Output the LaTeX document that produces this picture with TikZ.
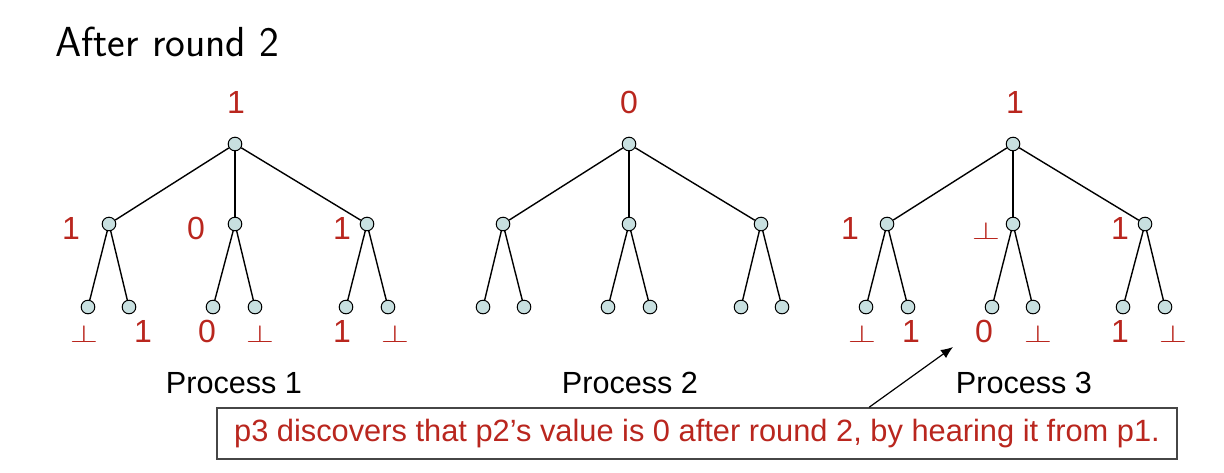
\documentclass[tikz,border=0pt]{standalone}
\usepackage{fontspec}
\newfontfamily\arialfont{Liberation Sans}
\usetikzlibrary{arrows.meta}
\definecolor{valred}{RGB}{185,38,30}
\definecolor{vtxfill}{RGB}{200,224,224}
\definecolor{boxgray}{RGB}{70,70,70}
\newcommand{\undefval}{\scalebox{1.05}[0.72]{$\perp$}}
\tikzset{
  vtx/.style={circle, draw, fill=vtxfill, minimum size=6.8pt, inner sep=0pt, line width=0.5pt},
  val/.style={anchor=base, text=valred, font=\arialfont\fontsize{16}{19}\selectfont},
  proc/.style={anchor=base, font=\arialfont\fontsize{15.3}{18}\selectfont},
  edge/.style={line width=0.7pt},
  notebox/.style={draw=boxgray, line width=0.8pt, minimum width=480pt, minimum height=25.5pt,
    text=valred, font=\arialfont\fontsize{15.4}{18}\selectfont}
}
\begin{document}
\begin{tikzpicture}[x=0.5pt, y=-0.5pt]
\useasboundingbox (0,0) rectangle (1224,472);
% Title
\node[anchor=base west, inner sep=0pt, font=\sffamily\fontsize{21}{25}\selectfont] (title) at (55,56) {After round 2};

% Process 1
\node[vtx] (p1r) at (235,144) {};
\node[vtx] (p1a) at (109,224) {};
\node[vtx] (p1b) at (235,224) {};
\node[vtx] (p1c) at (367,224) {};
\node[vtx] (p1a1) at (88,307) {};
\node[vtx] (p1a2) at (129,307) {};
\node[vtx] (p1b1) at (213,307) {};
\node[vtx] (p1b2) at (255,307) {};
\node[vtx] (p1c1) at (346,307) {};
\node[vtx] (p1c2) at (388,307) {};
\draw[edge] (p1r) -- (p1a);
\draw[edge] (p1r) -- (p1b);
\draw[edge] (p1r) -- (p1c);
\draw[edge] (p1a) -- (p1a1);
\draw[edge] (p1a) -- (p1a2);
\draw[edge] (p1b) -- (p1b1);
\draw[edge] (p1b) -- (p1b2);
\draw[edge] (p1c) -- (p1c1);
\draw[edge] (p1c) -- (p1c2);
\node[val] (v1r) at (236,113) {1};
\node[val] (v1a) at (71,239) {1};
\node[val] (v1b) at (196,239) {0};
\node[val] (v1c) at (342,239) {1};
\node[val] (v1a1) at (84,342) {\undefval};
\node[val] (v1a2) at (143,342) {1};
\node[val] (v1b1) at (207,342) {0};
\node[val] (v1b2) at (260,342) {\undefval};
\node[val] (v1c1) at (342,342) {1};
\node[val] (v1c2) at (395,342) {\undefval};
\node[proc] (name1) at (234,393) {Process 1};

% Process 2
\node[vtx] (p2r) at (629,144) {};
\node[vtx] (p2a) at (503,224) {};
\node[vtx] (p2b) at (629,224) {};
\node[vtx] (p2c) at (761,224) {};
\node[vtx] (p2a1) at (483,307) {};
\node[vtx] (p2a2) at (524,307) {};
\node[vtx] (p2b1) at (608,307) {};
\node[vtx] (p2b2) at (650,307) {};
\node[vtx] (p2c1) at (741,307) {};
\node[vtx] (p2c2) at (782,307) {};
\draw[edge] (p2r) -- (p2a);
\draw[edge] (p2r) -- (p2b);
\draw[edge] (p2r) -- (p2c);
\draw[edge] (p2a) -- (p2a1);
\draw[edge] (p2a) -- (p2a2);
\draw[edge] (p2b) -- (p2b1);
\draw[edge] (p2b) -- (p2b2);
\draw[edge] (p2c) -- (p2c1);
\draw[edge] (p2c) -- (p2c2);
\node[val] (v2r) at (629,113) {0};
\node[proc] (name2) at (630,393) {Process 2};

% Process 3
\node[vtx] (p3r) at (1013,144) {};
\node[vtx] (p3a) at (887,224) {};
\node[vtx] (p3b) at (1013,224) {};
\node[vtx] (p3c) at (1145,224) {};
\node[vtx] (p3a1) at (866,307) {};
\node[vtx] (p3a2) at (908,307) {};
\node[vtx] (p3b1) at (992,307) {};
\node[vtx] (p3b2) at (1033,307) {};
\node[vtx] (p3c1) at (1123,307) {};
\node[vtx] (p3c2) at (1165,307) {};
\draw[edge] (p3r) -- (p3a);
\draw[edge] (p3r) -- (p3b);
\draw[edge] (p3r) -- (p3c);
\draw[edge] (p3a) -- (p3a1);
\draw[edge] (p3a) -- (p3a2);
\draw[edge] (p3b) -- (p3b1);
\draw[edge] (p3b) -- (p3b2);
\draw[edge] (p3c) -- (p3c1);
\draw[edge] (p3c) -- (p3c2);
\node[val] (v3r) at (1015,113) {1};
\node[val] (v3a) at (850,239) {1};
\node[val] (v3b) at (986,239) {\undefval};
\node[val] (v3c) at (1120,239) {1};
\node[val] (v3a1) at (862,342) {\undefval};
\node[val] (v3a2) at (911,342) {1};
\node[val] (v3b1) at (984,342) {0};
\node[val] (v3b2) at (1038,342) {\undefval};
\node[val] (v3c1) at (1120,342) {1};
\node[val] (v3c2) at (1173,342) {\undefval};
\node[proc] (name3) at (1024,393) {Process 3};

% Note and arrow
\node[notebox] (note) at (697,433.5) {p3 discovers that p2’s value is 0 after round 2, by hearing it from p1.};
\coordinate (tip) at (953,347);
\draw[line width=0.6pt, -{Latex[length=6pt,width=5pt]}] ([xshift=326.5pt]note.north west) -- (tip);
\end{tikzpicture}
\end{document}
